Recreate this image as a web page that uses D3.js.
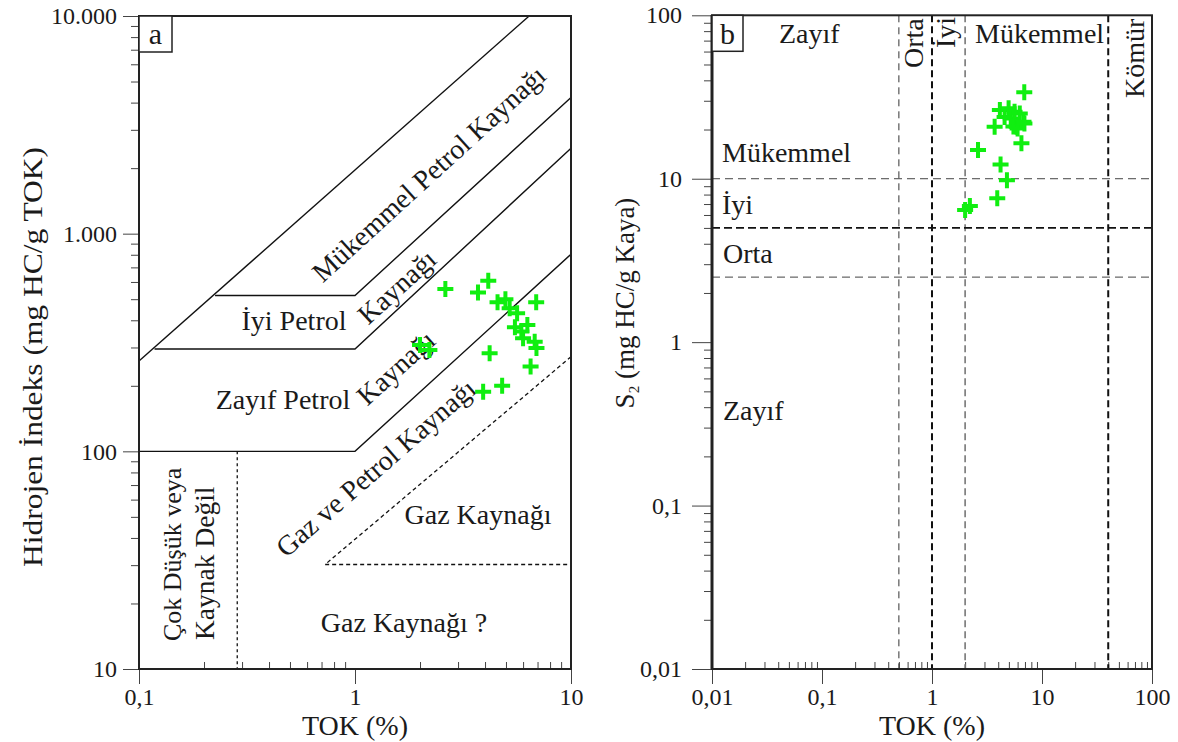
<!DOCTYPE html>
<html>
<head>
<meta charset="utf-8">
<script src="https://cdn.jsdelivr.net/npm/d3@7"></script>
<style>
  body { margin: 0; background: #fff; }
  svg text { font-family: "Liberation Serif", "Times New Roman", "DejaVu Serif", serif; fill: #1a1a1a; }
</style>
</head>
<body>
<svg id="chart" width="1178" height="742"></svg>
<script>
// Sample measurements: total organic carbon (%), hydrogen index (mg HC/g TOK), S2 (mg HC/g kaya)
const tok = [2.62, 2.0, 2.21, 3.92, 4.2, 4.8, 6.5, 6.9, 4.14, 3.71,
             4.57, 4.97, 5.2, 5.63, 6.28, 5.5, 5.89, 6.0, 6.79, 6.92];
const hi  = [557, 308, 292, 188, 282, 200, 245, 484, 607, 536,
             484, 500, 454, 431, 381, 372, 355, 331, 319, 298];
const s2  = [15.0, 6.43, 6.82, 7.59, 12.2, 9.8, 16.5, 33.8, 26.3, 20.8,
             23.9, 27.0, 23.4, 25.7, 25.1, 20.9, 20.8, 20.3, 22.3, 21.8];

// Panel a: source-rock fields in TOK / HI space
const lineOuter     = [[0.1, 260], [6.4, 10000]];
const lineExcellent = [[0.225, 520], [1, 520], [10, 4220]];
const lineGood      = [[0.118, 295], [1, 295], [10, 2470]];
const lineFair      = [[0.1, 100], [1, 100], [10, 805]];
const lineGas       = [[10, 272], [0.727, 30.2], [10, 30.2]];
const lineNone      = [[0.285, 100], [0.285, 10]];

// Panel a axis ticks
const aXTicks  = [0.1, 1, 10];
const aXLabels = ["0,1", "1", "10"];
const aYTicks  = [10, 100, 1000, 10000];
const aYLabels = ["10", "100", "1.000", "10.000"];

// Panel b: threshold lines and axis ticks
const tokCuts  = [0.5, 1, 2, 40];
const s2Cuts   = [2.5, 5, 10];
const bTicks   = [0.01, 0.1, 1, 10, 100];
const bLabels  = ["0,01", "0,1", "1", "10", "100"];

const FONT = '"Liberation Serif", "Times New Roman", "DejaVu Serif", serif';
const svg = d3.select("#chart");

function minorTicks(lo, hi) {
  const out = [];
  for (let d = lo; d < hi; d *= 10)
    for (let k = 2; k <= 9; k++) out.push(d * k);
  return out;
}

function crossPath(g, pts, x, y) {
  g.selectAll("path.pt").data(pts).join("path")
    .attr("class", "pt")
    .attr("d", d => `M${x(d[0]) - 8},${y(d[1])}H${x(d[0]) + 8}M${x(d[0])},${y(d[1]) - 8}V${y(d[1]) + 8}`)
    .attr("stroke", "#10ee10")
    .attr("stroke-width", 4)
    .attr("fill", "none");
}

function styleAxis(g) {
  g.attr("font-family", FONT);
  g.select(".domain").remove();
  g.selectAll("line").attr("stroke", "#444").attr("stroke-width", 1);
  g.selectAll("text").attr("font-size", 24).attr("fill", "#1a1a1a").attr("font-family", FONT);
}

/* ---------------- Panel a ---------------- */
const xa = d3.scaleLog().domain([0.1, 10]).range([139, 571]);
const ya = d3.scaleLog().domain([10, 10000]).range([669, 16]);
const ga = svg.append("g");

ga.append("g").attr("transform", "translate(0,669)")
  .call(d3.axisBottom(xa).tickValues(aXTicks).tickFormat((d, i) => aXLabels[i]).tickSize(15).tickPadding(4))
  .call(styleAxis);
ga.append("g").attr("transform", "translate(0,669)")
  .call(d3.axisBottom(xa).tickValues(minorTicks(0.1, 10)).tickFormat("").tickSize(-7))
  .call(styleAxis);
ga.append("g").attr("transform", "translate(139,0)")
  .call(d3.axisLeft(ya).tickValues(aYTicks).tickFormat((d, i) => aYLabels[i]).tickSize(16).tickPadding(6))
  .call(styleAxis);
ga.append("g").attr("transform", "translate(139,0)")
  .call(d3.axisLeft(ya).tickValues(minorTicks(10, 10000)).tickFormat("").tickSize(8))
  .call(styleAxis);

const lineA = d3.line().x(d => xa(d[0])).y(d => ya(d[1]));
[lineOuter, lineExcellent, lineGood, lineFair].forEach(l =>
  ga.append("path").attr("d", lineA(l)).attr("fill", "none").attr("stroke", "#111").attr("stroke-width", 1.4));
ga.append("path").attr("d", lineA(lineGas)).attr("fill", "none")
  .attr("stroke", "#111").attr("stroke-width", 1.3).attr("stroke-dasharray", "4,3");
ga.append("path").attr("d", lineA(lineNone)).attr("fill", "none")
  .attr("stroke", "#111").attr("stroke-width", 1.3).attr("stroke-dasharray", "3,3");

ga.append("rect").attr("x", 139).attr("y", 16).attr("width", 432).attr("height", 653)
  .attr("fill", "none").attr("stroke", "#222").attr("stroke-width", 2);
ga.append("rect").attr("x", 139).attr("y", 16).attr("width", 33).attr("height", 36)
  .attr("fill", "#fff").attr("stroke", "#222").attr("stroke-width", 1.5);
ga.append("text").attr("x", 155.5).attr("y", 44).attr("text-anchor", "middle")
  .attr("font-family", FONT).attr("font-size", 30).text("a");

const fs = 28;
function rotLabel(g, cx, cy, ang, str) {
  g.append("text").attr("transform", `translate(${cx},${cy}) rotate(${ang})`)
    .attr("text-anchor", "middle").attr("dy", "0.33em").attr("font-family", FONT).attr("font-size", fs).text(str);
}
function vertLabel(g, bx, by, str, size) {
  g.append("text").attr("transform", `translate(${bx},${by}) rotate(-90)`)
    .attr("text-anchor", "start").attr("font-family", FONT).attr("font-size", size || fs).text(str);
}
function hLabel(g, x, y, str, anchor) {
  g.append("text").attr("x", x).attr("y", y).attr("text-anchor", anchor || "middle")
    .attr("font-family", FONT).attr("font-size", fs).text(str);
}
rotLabel(ga, 429, 174, -42.4, "Mükemmel Petrol Kaynağı");
hLabel(ga, 294, 330, "İyi Petrol");
rotLabel(ga, 397, 287, -42.4, "Kaynağı");
hLabel(ga, 283, 409, "Zayıf Petrol");
rotLabel(ga, 396, 368, -42.4, "Kaynağı");
rotLabel(ga, 376, 468, -41, "Gaz ve Petrol Kaynağı");
hLabel(ga, 478, 524, "Gaz Kaynağı");
hLabel(ga, 404, 632, "Gaz Kaynağı ?");
vertLabel(ga, 181, 641, "Çok Düşük veya", 26);
vertLabel(ga, 214, 640, "Kaynak Değil", 27.5);

ga.append("text").attr("x", 355).attr("y", 735).attr("text-anchor", "middle")
  .attr("font-family", FONT).attr("font-size", fs).text("TOK (%)");
ga.append("text").attr("transform", "translate(42,357) rotate(-90)").attr("text-anchor", "middle")
  .attr("font-family", FONT).attr("font-size", fs)
  .attr("textLength", 420).attr("lengthAdjust", "spacingAndGlyphs")
  .text("Hidrojen İndeks (mg HC/g TOK)");

crossPath(ga, tok.map((t, i) => [t, hi[i]]), xa, ya);

/* ---------------- Panel b ---------------- */
const xb = d3.scaleLog().domain([0.01, 100]).range([712, 1152]);
const yb = d3.scaleLog().domain([0.01, 100]).range([669, 15.3]);
const gb = svg.append("g");

gb.append("g").attr("transform", "translate(0,669)")
  .call(d3.axisBottom(xb).tickValues(bTicks).tickFormat((d, i) => bLabels[i]).tickSize(15).tickPadding(4))
  .call(styleAxis);
gb.append("g").attr("transform", "translate(0,669)")
  .call(d3.axisBottom(xb).tickValues(minorTicks(0.01, 100)).tickFormat("").tickSize(-7))
  .call(styleAxis);
gb.append("g").attr("transform", "translate(712,0)")
  .call(d3.axisLeft(yb).tickValues(bTicks).tickFormat((d, i) => bLabels[i]).tickSize(20).tickPadding(10))
  .call(styleAxis);
gb.append("g").attr("transform", "translate(712,0)")
  .call(d3.axisLeft(yb).tickValues(minorTicks(0.01, 100)).tickFormat("").tickSize(8))
  .call(styleAxis);

const cutStyle = {
  0.5: { c: "#333", w: 1, d: "7,5" },
  1:   { c: "#111", w: 2, d: "7,4" },
  2:   { c: "#777", w: 1.6, d: "7,4" },
  40:  { c: "#111", w: 2, d: "7,4" },
  2.5: { c: "#444", w: 1, d: "8,5" },
  5:   { c: "#111", w: 1.8, d: "8,4" },
  10:  { c: "#444", w: 1, d: "8,5" }
};
gb.selectAll("line.vcut").data(tokCuts).join("line").attr("class", "vcut")
  .attr("x1", d => xb(d)).attr("x2", d => xb(d)).attr("y1", yb(100)).attr("y2", yb(0.01))
  .attr("stroke", d => cutStyle[d].c).attr("stroke-width", d => cutStyle[d].w)
  .attr("stroke-dasharray", d => cutStyle[d].d);
gb.selectAll("line.hcut").data(s2Cuts).join("line").attr("class", "hcut")
  .attr("x1", xb(0.01)).attr("x2", xb(100)).attr("y1", d => yb(d)).attr("y2", d => yb(d))
  .attr("stroke", d => cutStyle[d].c).attr("stroke-width", d => cutStyle[d].w)
  .attr("stroke-dasharray", d => cutStyle[d].d);

gb.append("rect").attr("x", 712).attr("y", 15.3).attr("width", 440).attr("height", 653.7)
  .attr("fill", "none").attr("stroke", "#222").attr("stroke-width", 2);
gb.append("line").attr("x1", 712).attr("x2", 712).attr("y1", 15).attr("y2", 669)
  .attr("stroke", "#222").attr("stroke-width", 3);
gb.append("rect").attr("x", 712).attr("y", 15.3).attr("width", 31).attr("height", 36)
  .attr("fill", "#fff").attr("stroke", "#222").attr("stroke-width", 1.5);
gb.append("text").attr("x", 727.5).attr("y", 44).attr("text-anchor", "middle")
  .attr("font-family", FONT).attr("font-size", 30).text("b");

hLabel(gb, 779, 43, "Zayıf", "start");
vertLabel(gb, 923, 68, "Orta");
vertLabel(gb, 955, 48, "İyi");
hLabel(gb, 975, 43, "Mükemmel", "start");
vertLabel(gb, 1144, 98, "Kömür");
hLabel(gb, 722, 162, "Mükemmel", "start");
hLabel(gb, 722, 214, "İyi", "start");
hLabel(gb, 723, 263, "Orta", "start");
hLabel(gb, 723, 420, "Zayıf", "start");

gb.append("text").attr("x", 932).attr("y", 735).attr("text-anchor", "middle")
  .attr("font-family", FONT).attr("font-size", fs).text("TOK (%)");
const yt = gb.append("text").attr("transform", "translate(634,303) rotate(-90)")
  .attr("text-anchor", "middle").attr("font-family", FONT).attr("font-size", 27);
yt.append("tspan").text("S");
yt.append("tspan").attr("font-size", 15).attr("dy", 5).text("2");
yt.append("tspan").attr("dy", -5).text(" (mg HC/g Kaya)");

crossPath(gb, tok.map((t, i) => [t, s2[i]]), xb, yb);
</script>
</body>
</html>
